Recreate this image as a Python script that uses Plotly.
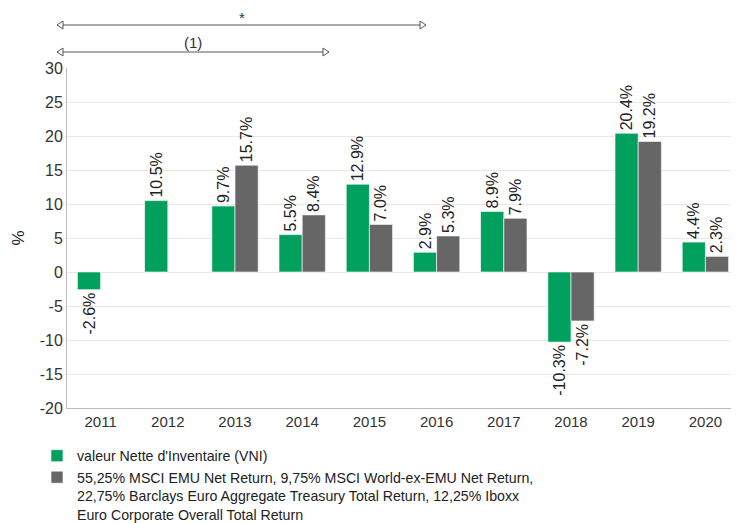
import plotly.graph_objects as go

years = ["2011", "2012", "2013", "2014", "2015", "2016", "2017", "2018", "2019", "2020"]
vni = [-2.6, 10.5, 9.7, 5.5, 12.9, 2.9, 8.9, -10.3, 20.4, 4.4]
bench = [None, None, 15.7, 8.4, 7.0, 5.3, 7.9, -7.2, 19.2, 2.3]
y_ticks = [-20, -15, -10, -5, 0, 5, 10, 15, 20, 25, 30]
y_tick_labels = ["-20", "-15", "-10", "-5", "0", "5", "10", "15", "20", "25", "30"]
name_vni = "valeur Nette d'Inventaire (VNI)"
name_bench = ("55,25% MSCI EMU Net Return, 9,75% MSCI World-ex-EMU Net Return,<br>"
              "22,75% Barclays Euro Aggregate Treasury Total Return, 12,25% Iboxx<br>"
              "Euro Corporate Overall Total Return")

FONT = "Liberation Sans, Arial, sans-serif"
OFF = 8  # page body margin offset
W, H = 739 - OFF, 523 - OFF
L, R, T, B = 67 - OFF, 0, 68 - OFF, 115
PW, PH = W - L - R, H - T - B

def px(x):
    # x given in page pixels
    return (x - OFF - L) / PW

def py(y):
    return (H - B - (y - OFF)) / PH

fig = go.Figure()
for name, vals, col in [(name_vni, vni, "#00A05E"), (name_bench, bench, "#666666")]:
    fig.add_trace(go.Bar(
        x=years, y=vals, name=name,
        marker=dict(color=col, line=dict(color="rgba(255,255,255,0.6)", width=1)),
        texttemplate="%{y:.1f}%", textposition="outside", textangle=-90,
        constraintext="none",
        textfont=dict(size=16, color="#222222", family=FONT),
        cliponaxis=False,
    ))

shapes = []
annotations = []

def arrow(x0, x1, y, label, ly, yanchor):
    shapes.append(dict(type="line", xref="paper", yref="paper",
                       x0=px(x0), x1=px(x1), y0=py(y), y1=py(y),
                       line=dict(color="#555555", width=1)))
    hw, hh = 6, 4
    for tip, d in [(x0, 1), (x1, -1)]:
        path = "M {} {} L {} {} L {} {} Z".format(
            px(tip), py(y), px(tip + d * hw), py(y - hh), px(tip + d * hw), py(y + hh))
        shapes.append(dict(type="path", xref="paper", yref="paper", path=path,
                           fillcolor="white", line=dict(color="#555555", width=1)))
    annotations.append(dict(xref="paper", yref="paper", x=px((x0 + x1) / 2), y=py(ly),
                            xanchor="center", yanchor=yanchor, borderpad=0,
                            text=label, showarrow=False,
                            font=dict(size=15, color="#333333", family=FONT)))

arrow(57, 426, 25, "*", OFF, "top")
arrow(57, 329, 52, "(1)", 42, "middle")

fig.update_layout(
    width=W, height=H,
    margin=dict(l=L, r=R, t=T, b=B, autoexpand=False),
    paper_bgcolor="white", plot_bgcolor="white",
    font=dict(family=FONT, size=14, color="#333333"),
    barmode="group", bargap=0.31, bargroupgap=0.0,
    showlegend=True,
    legend=dict(orientation="v", x=px(37), y=py(440), xanchor="left", yanchor="top",
                font=dict(size=14.2, color="#222222", family=FONT),
                valign="top", tracegroupgap=0, itemwidth=30),
    shapes=shapes, annotations=annotations,
    yaxis=dict(range=[-20, 30], tickvals=y_ticks, ticktext=y_tick_labels,
               showgrid=True, gridcolor="#e8e8e8",
               zeroline=False, showline=True, linecolor="#bbbbbb", ticks="",
               tickfont=dict(size=16, color="#333333"),
               title=dict(text="%", font=dict(size=17, color="#222222"), standoff=10)),
    xaxis=dict(showline=True, linecolor="#bbbbbb", ticks="", showgrid=False,
               tickfont=dict(size=15, color="#333333")),
)

fig.write_html("out.html")
